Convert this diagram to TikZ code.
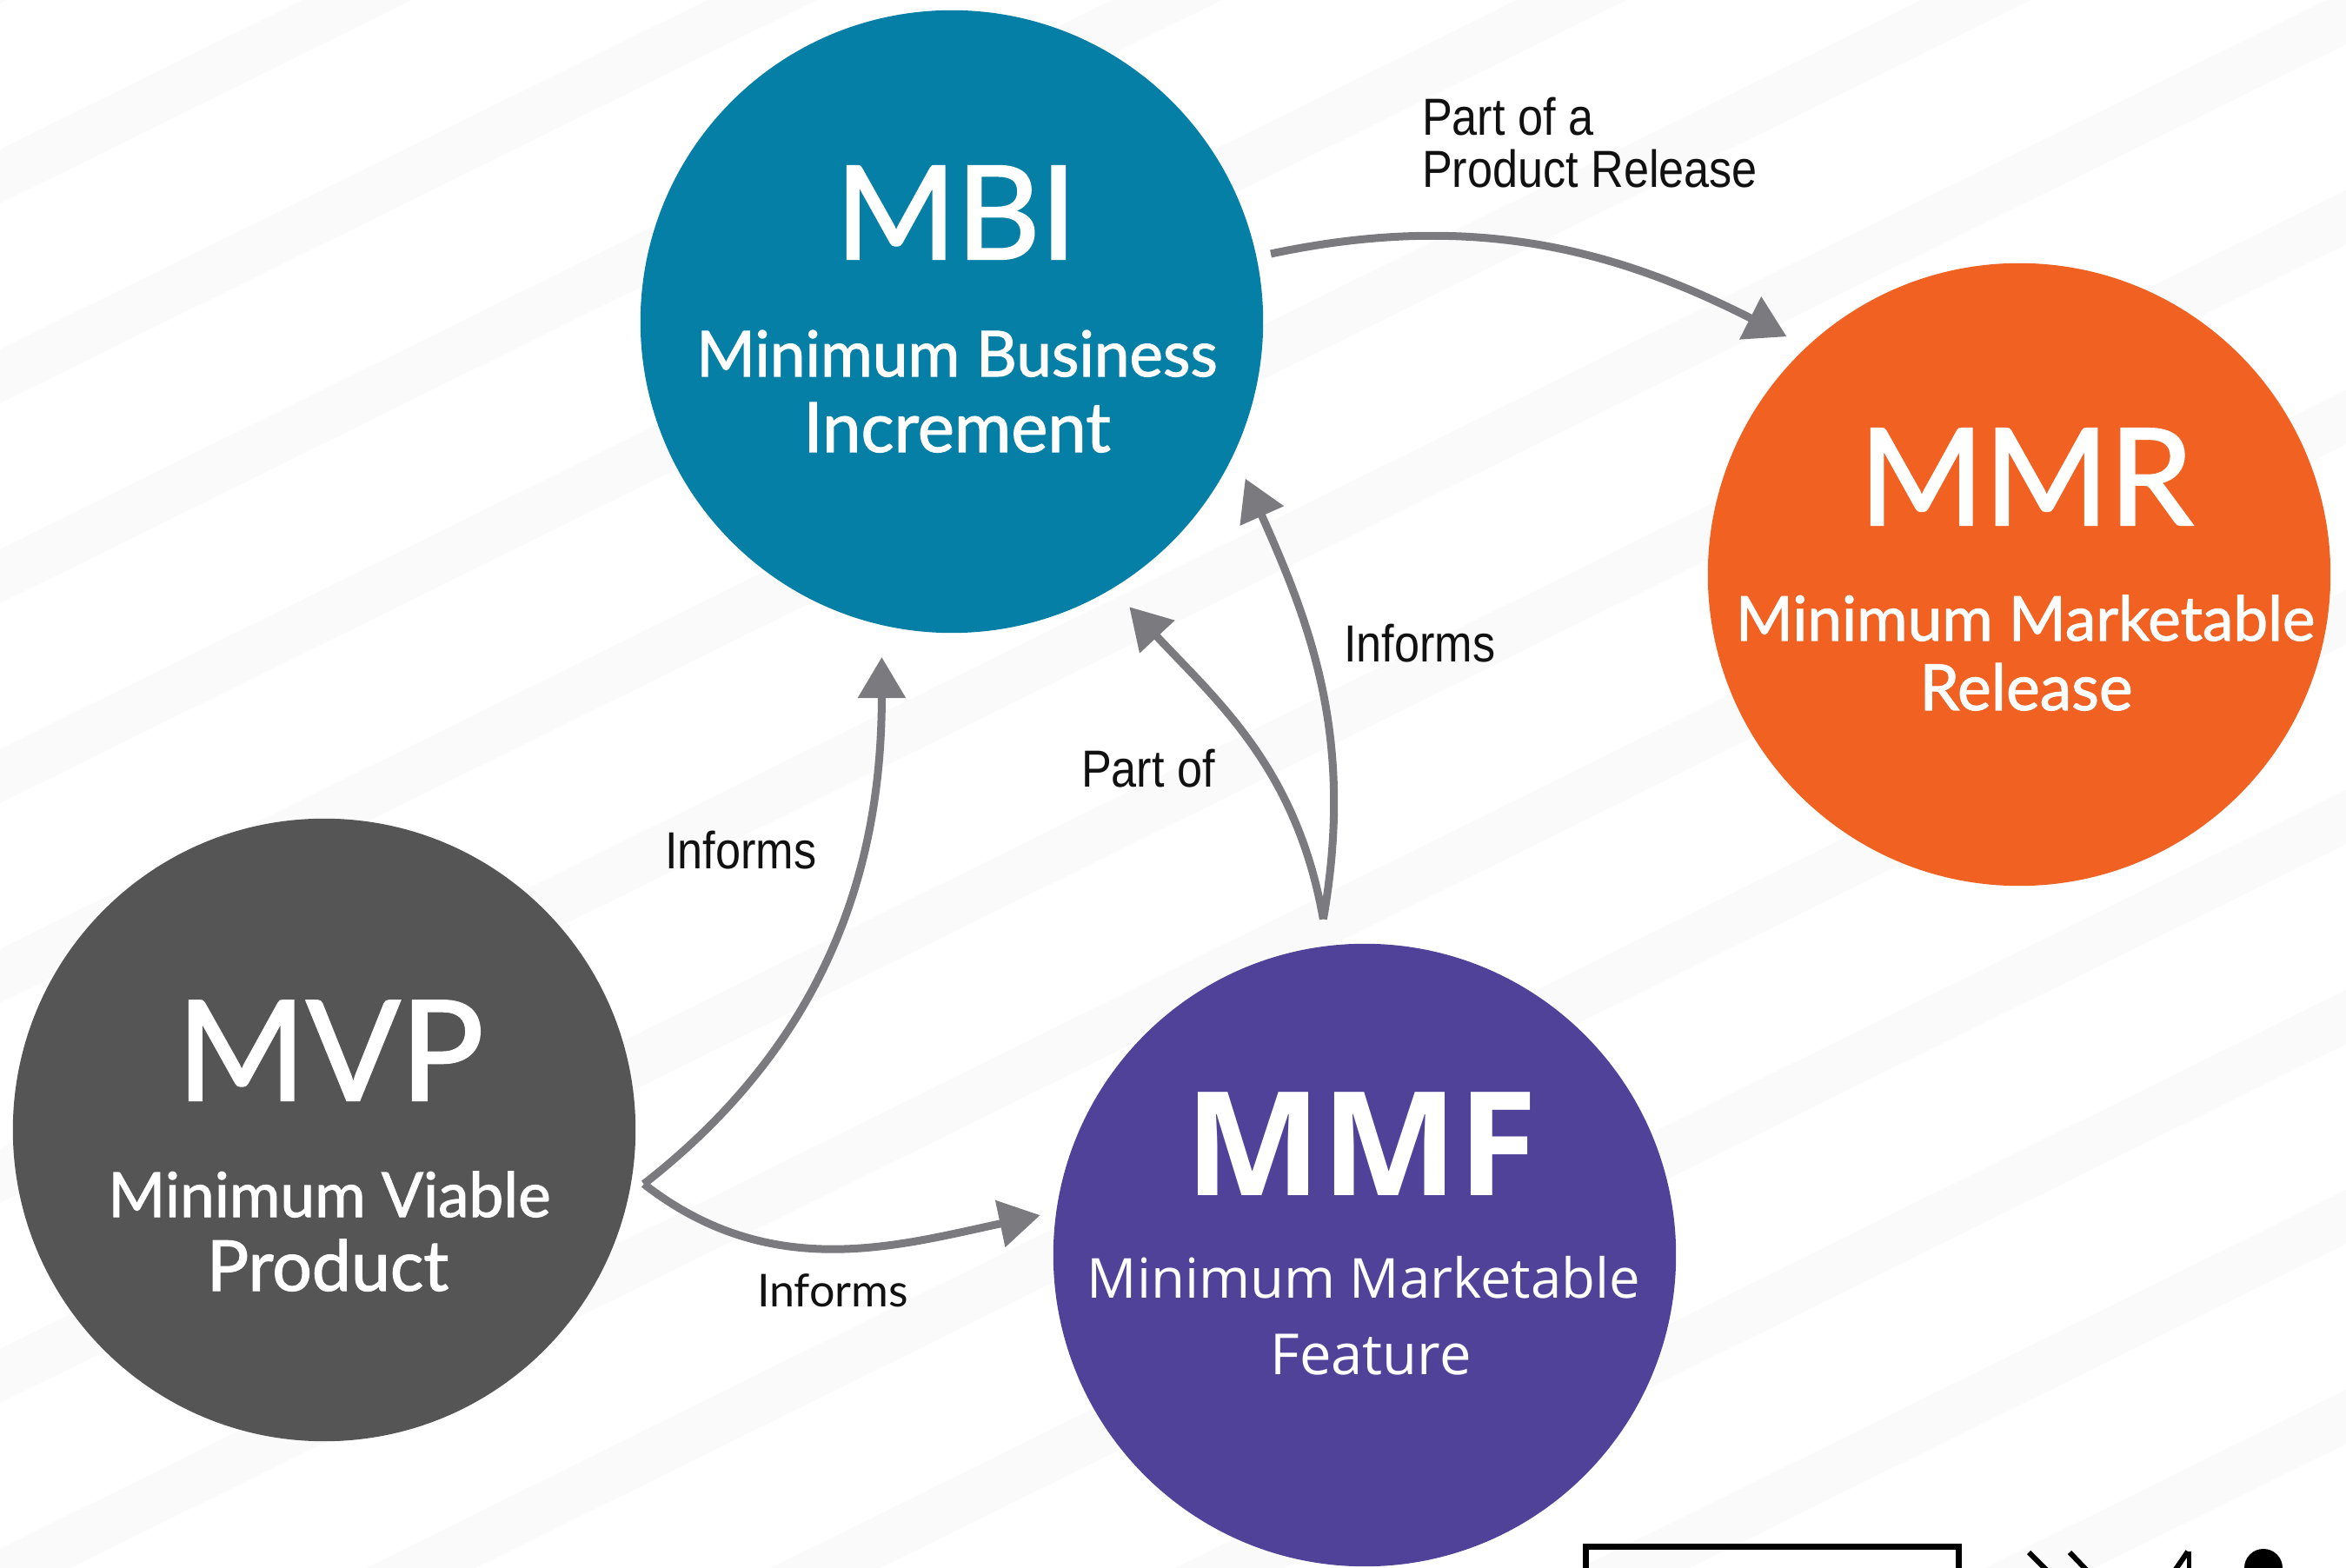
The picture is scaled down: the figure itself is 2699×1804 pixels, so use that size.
\documentclass[tikz,border=0pt]{standalone}
\usepackage{fontspec}
\usepackage{graphicx}
\usetikzlibrary{arrows.meta,calc}
\newfontfamily\circfont[FakeBold=1.5]{Lato}
\newfontfamily\lblround{Lato}
\newfontfamily\mmffont{Open Sans}
\newfontfamily\lblfont[FakeStretch=0.87]{Liberation Sans}
\definecolor{cMBI}{RGB}{6,127,167}
\definecolor{cMMR}{RGB}{240,97,34}
\definecolor{cMVP}{RGB}{85,85,85}
\definecolor{cMMF}{RGB}{80,66,153}
\definecolor{cArr}{RGB}{122,122,127}
\definecolor{cStripe}{RGB}{250,250,250}
\definecolor{cLbl}{RGB}{17,17,17}
\newcommand\fw[2]{\resizebox{#1}{!}{#2}}
\tikzset{
  circ/.style={circle, minimum size=7.16cm, inner sep=0pt, outer sep=0pt},
  ctext/.style={text=white, inner sep=0pt, outer sep=0pt, anchor=base, font=\circfont\fontsize{20}{24}\selectfont},
  mtext/.style={text=white, inner sep=0pt, outer sep=0pt, anchor=base, font=\mmffont\fontsize{20}{24}\selectfont},
  lbl/.style={text=cLbl, inner sep=0pt, outer sep=0pt, anchor=base west, font=\lblfont\fontsize{17.07}{20}\selectfont},
  conn/.style={draw=cArr, line width=0.09cm, -{Triangle[length=0.47cm,width=0.53cm]}}
}
\begin{document}
\begin{tikzpicture}[x=0.01cm,y=-0.01cm]
\useasboundingbox (0,0) rectangle (2699,1804);
\clip (0,0) rectangle (2699,1804);
\fill[white] (0,0) rectangle (2699,1804);
% background stripes
\foreach \c in {-58,172,...,3162} {
  \fill[cStripe] (0,\c) -- (2699,\c-1333) -- (2699,\c-1271) -- (0,\c+62) -- cycle;
}
% circles
\node[circ, fill=cMBI] (mbi) at (1095,370) {};
\node[circ, fill=cMMR] (mmr) at (2323,661) {};
\node[circ, fill=cMVP] (mvp) at (373,1300) {};
\node[circ, fill=cMMF] (mmf) at (1570,1444) {};
% circle texts
\node[ctext] (mbiT) at (1100,298) {\fw{2.77cm}{MBI}};
\node[ctext] (mbiS1) at (1101,433) {\fw{5.99cm}{Minimum Business}};
\node[ctext] (mbiS2) at (1101,520) {\fw{3.53cm}{Increment}};
\node[ctext] (mmrT) at (2331,604) {\fw{3.84cm}{MMR}};
\node[ctext] (mmrS1) at (2330,737) {\fw{6.66cm}{Minimum Marketable}};
\node[ctext] (mmrS2) at (2331,817) {\fw{2.45cm}{Release}};
\node[ctext] (mvpT) at (380,1266) {\fw{3.53cm}{MVP}};
\node[ctext] (mvpS1) at (379,1400) {\fw{5.09cm}{Minimum Viable}};
\node[ctext] (mvpS2) at (377,1485) {\fw{2.78cm}{Product}};
\node[mtext] (mmfT) at (1566,1376) {\fw{4.05cm}{\bfseries MMF}};
\node[mtext] (mmfS1) at (1569,1493) {\fw{6.36cm}{Minimum Marketable}};
\node[mtext] (mmfS2) at (1577,1581) {\fw{2.31cm}{Feature}};
% junction points
\coordinate (mvpJ) at ($(mvp.-10)+(15,0)$);
\coordinate (mmfJ) at ($(mmf.97)+(-4,-31)$);
% connectors
\draw[conn, shorten <=0.17cm, shorten >=0.26cm] (mbi.12) to[out=12,in=153] (mmr.133);
\draw[conn, shorten >=0.37cm] (mvpJ) to[out=38,in=-90] (mbi.257);
\draw[conn, shorten >=0.19cm] (mvpJ) to[out=-38,in=192] (mmf.172.5);
\draw[conn, shorten >=0.29cm] (mmfJ) to[out=100,in=-47] (mbi.-59.3);
\draw[conn, shorten >=0.32cm] (mmfJ) to[out=80,in=-66] (mbi.-25);
% labels
\node[lbl] (l1a) at (1636,156) {Part of a};
\node[lbl] (l1b) at (1636,216) {Product Release};
\node[lbl] (l2) at (1546,762) {Informs};
\node[lbl] (l3) at (1244,906) {Part of};
\node[lbl] (l4) at (765,1000) {Informs};
\node[lbl, font=\lblround\fontsize{14}{16}\selectfont] (l5) at (871,1503) {\fw{1.74cm}{Informs}};
% partial elements at bottom right
\draw[black, line width=0.07cm] (1824.5,1779.5) rectangle (2253.5,1860);
\draw[black, line width=0.06cm] (2334,1786) -- (2358,1810);
\draw[black, line width=0.06cm] (2381,1786) -- (2404,1810);
\draw[black, line width=0.06cm] (2517,1785) -- (2500,1810);
\draw[black, line width=0.05cm] (2518,1785) -- (2518,1810);
\fill[black] (2604,1804) circle[radius=0.22cm];
\end{tikzpicture}
\end{document}
